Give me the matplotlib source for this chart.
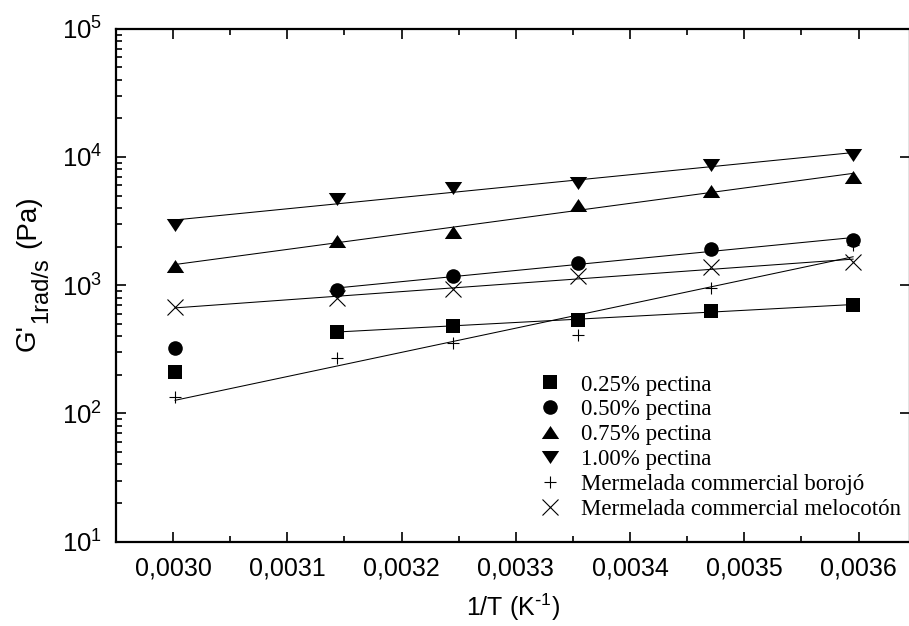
import numpy as np
import matplotlib
matplotlib.use("Agg")
import matplotlib.pyplot as plt
from matplotlib.transforms import IdentityTransform
from matplotlib.ticker import LogLocator, MultipleLocator, FuncFormatter, NullFormatter

# Inverse absolute temperature (1/K)
inv_T = [0.0030017, 0.0031432, 0.0032452, 0.0033540, 0.0034704, 0.0035952]

# Storage modulus at 1 rad/s (Pa)
g_025 = [212, 432, 483, 535, 630, 701]
g_050 = [322, 918, 1180, 1497, 1905, 2250]
g_075 = [1413, 2223, 2612, 4220, 5460, 7020]
g_100 = [2944, 4677, 5700, 6297, 8650, 10350]
g_borojo = [134, 272, 352, 409, 946, 2055]
g_melocoton = [673, 790, 929, 1186, 1381, 1525]

labels = ["0.25% pectina", "0.50% pectina", "0.75% pectina", "1.00% pectina",
          "Mermelada commercial borojó", "Mermelada commercial melocotón"]

# first point included in each Arrhenius fit
fit_start = [1, 1, 0, 0, 0, 0]

plt.rcParams["font.family"] = ["Liberation Sans", "DejaVu Sans"]
plt.rcParams["mathtext.default"] = "regular"

W, H = 909, 626
fig = plt.figure(figsize=(W / 100, H / 100), dpi=100)
ax = fig.add_axes([116 / W, 1 - 541.7 / H, (910 - 116) / W, (541.7 - 28.7) / H])

tri_up = [(0, 0.75), (-1, -0.75), (1, -0.75)]
tri_dn = [(0, -0.75), (-1, 0.75), (1, 0.75)]

styles = [
    dict(marker="s", ms=9.5, mfc="black", mec="black", mew=0),
    dict(marker="o", ms=10.5, mfc="black", mec="black", mew=0),
    dict(marker=tri_up, ms=12.5, mfc="black", mec="black", mew=0),
    dict(marker=tri_dn, ms=12.5, mfc="black", mec="black", mew=0),
    dict(marker="+", ms=9, mfc="black", mec="black", mew=0.8),
    dict(marker="x", ms=11, mfc="black", mec="black", mew=0.8),
]

series = [g_025, g_050, g_075, g_100, g_borojo, g_melocoton]
x = np.array(inv_T)
for ys, st, lab, s0 in zip(series, styles, labels, fit_start):
    y = np.array(ys, dtype=float)
    # linear fit of log10(G') against 1/T
    k, b = np.polyfit(x[s0:], np.log10(y[s0:]), 1)
    xf = np.array([x[s0], x[-1]])
    ax.plot(xf, 10 ** (k * xf + b), color="black", lw=0.75, zorder=2)
    ax.plot(x, y, linestyle="none", label=lab, zorder=3, **st)

ax.set_yscale("log")
ax.set_ylim(10, 1e5)
ax.set_xlim(0.00295, 0.003645)

ax.xaxis.set_major_locator(MultipleLocator(0.0001))
ax.xaxis.set_minor_locator(MultipleLocator(0.00005))
ax.xaxis.set_major_formatter(FuncFormatter(lambda v, p: f"{v:.4f}".replace(".", ",")))
ax.yaxis.set_major_locator(LogLocator(base=10, numticks=10))
ax.yaxis.set_minor_locator(LogLocator(base=10, subs=np.arange(2, 10), numticks=20))
ax.yaxis.set_minor_formatter(NullFormatter())
ax.yaxis.set_major_formatter(FuncFormatter(lambda v, p: r"$10^{%d}$" % round(np.log10(v))))

ax.tick_params(which="both", direction="in", top=True, right=True, width=1.2)
ax.tick_params(which="major", length=7)
ax.tick_params(which="minor", length=4)
ax.tick_params(axis="y", which="minor", right=False)
ax.tick_params(axis="x", which="major", labelsize=18, pad=11)
ax.tick_params(axis="y", which="major", labelsize=18.5, pad=10)

for sp in ax.spines.values():
    sp.set_linewidth(1.6)

ax.set_xlabel(r"1/T (K$^{\text{-}1}$)", fontsize=18, labelpad=8)

leg = ax.legend(loc="upper left", bbox_to_anchor=(0.529, 0.326), frameon=False,
                prop={"family": ["Liberation Serif", "DejaVu Serif"], "size": 16.5},
                handletextpad=0.75, labelspacing=0.17, handlelength=1.2,
                borderaxespad=0, borderpad=0)

# y-axis title built from pieces so the subscript keeps a large size
fig.canvas.draw()
rend = fig.canvas.get_renderer()
ident = IdentityTransform()
base_x = 35
start_y = H - 351
pieces = [("G'", 20, 0, 0), ("1rad/s", 17, 12, 0), ("(Pa)", 20, 0, 8)]
cur_y = start_y
for txt, size, drop, gap in pieces:
    t = fig.text(base_x + drop, cur_y + gap, txt, rotation=90, rotation_mode="anchor",
                 ha="left", va="baseline", fontsize=size, transform=ident)
    bb = t.get_window_extent(rend)
    cur_y = bb.y1 + 1

fig.savefig("out.png", dpi=100)
